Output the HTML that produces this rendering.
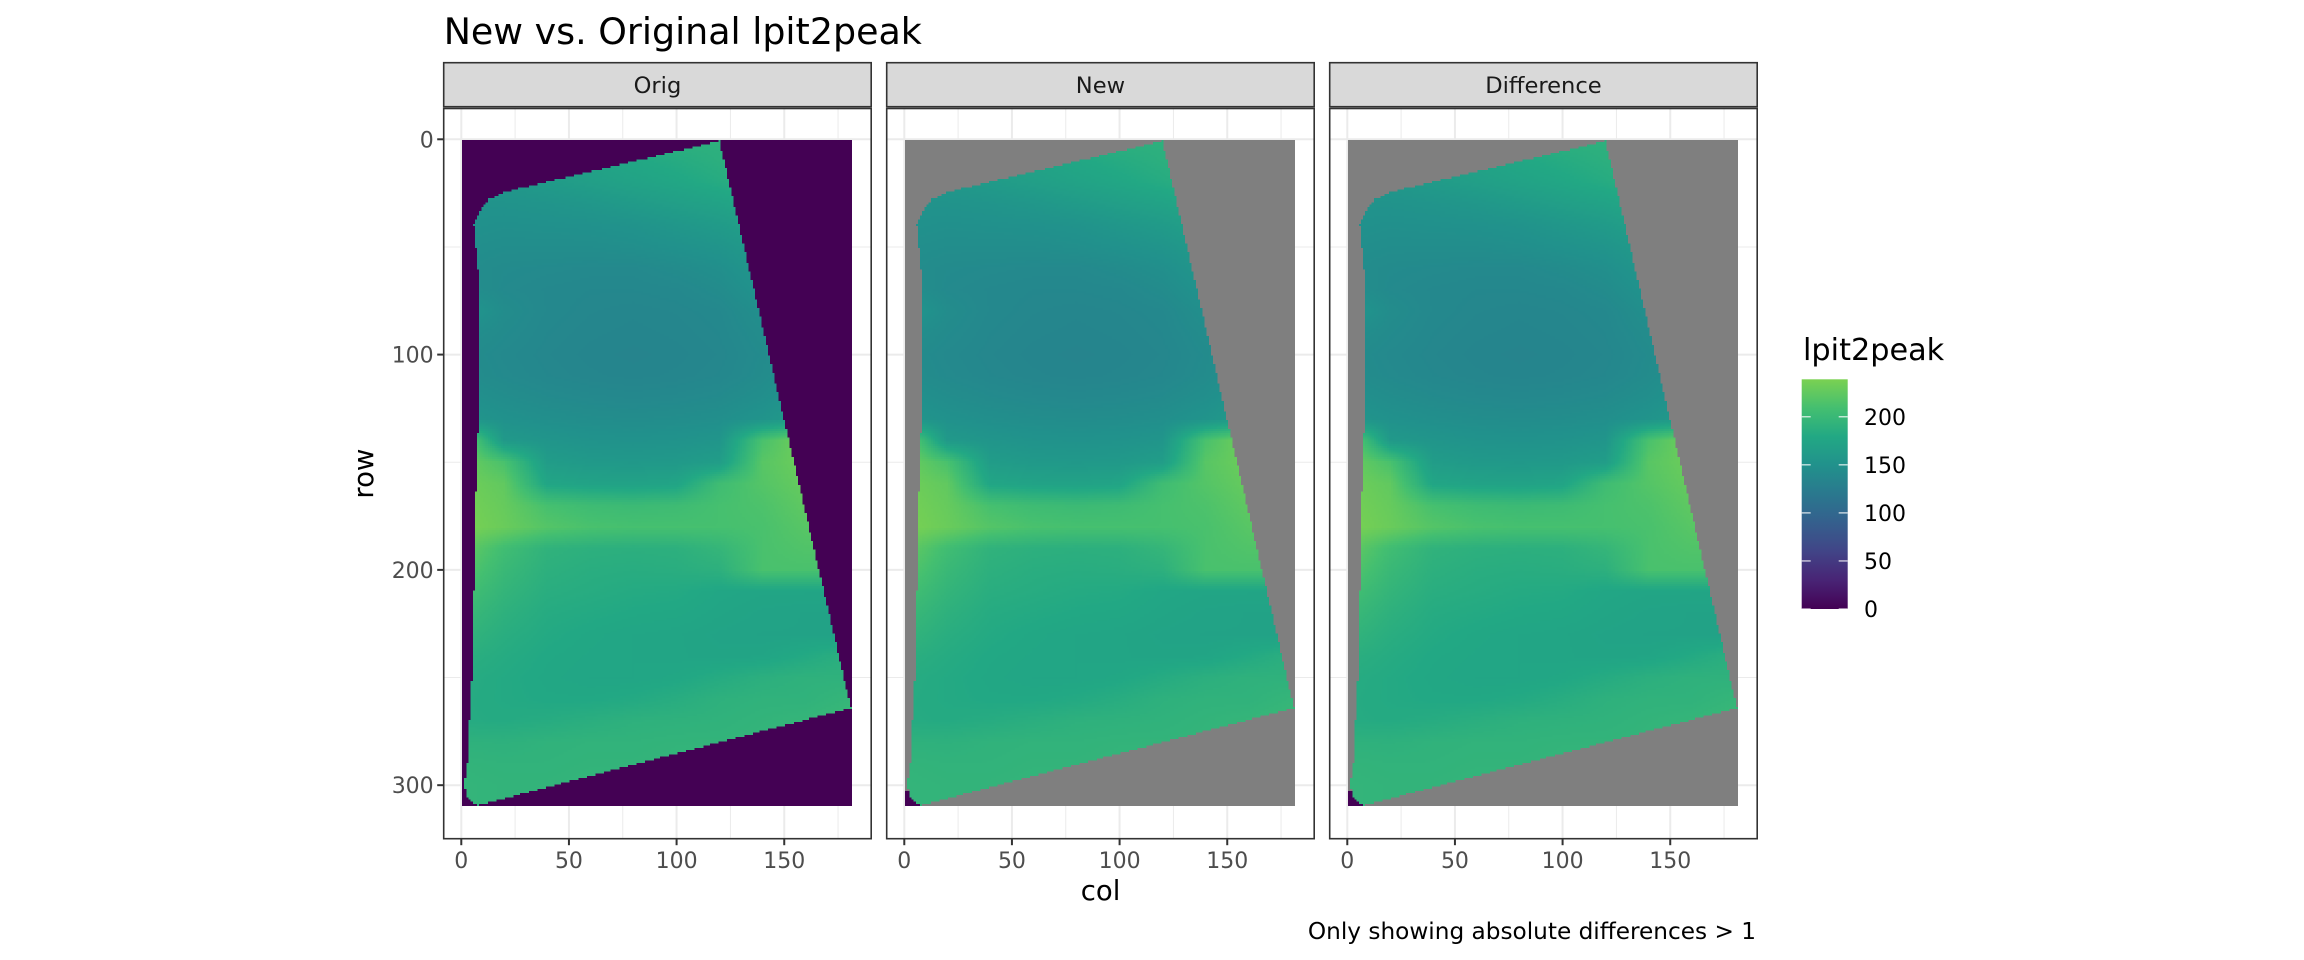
<!DOCTYPE html>
<html><head><meta charset="utf-8"><style>
html,body{margin:0;padding:0;background:#fff;}
#wrap{position:relative;width:2304px;height:960px;overflow:hidden;font-family:"DejaVu Sans","Liberation Sans",sans-serif;}
svg{position:absolute;left:0;top:0;}
canvas{position:absolute;image-rendering:pixelated;}
</style></head><body>
<div id="wrap">
<svg id="svg" width="2304" height="960"></svg>
</div>
<script>
// ---- data ----
const panelNames = ["Orig", "New", "Difference"];
const xTicks = [0, 50, 100, 150];
const yTicks = [0, 100, 200, 300];
const legendTicks = [0, 50, 100, 150, 200];
const gridCols = [0, 20, 40, 60, 80, 100, 120, 140, 160, 180];
const gridRows = [0,10,20,30,40,50,60,70,80,90,100,110,120,130,140,150,160,170,180,190,200,210,220,230,240,250,260,270,280,290,300,310];
const gridValues = [
[190,190,190,190,190,190,190,190,190,190],
[165,165,168,172,178,183,188,192,192,192],
[158,158,162,167,172,177,183,190,192,192],
[152,152,154,157,162,167,172,180,188,188],
[150,148,149,150,152,157,162,170,178,178],
[147,145,145,145,147,150,154,162,172,172],
[145,142,141,140,140,143,147,157,167,167],
[147,141,139,138,138,139,143,152,162,162],
[158,144,139,137,136,137,139,147,157,157],
[147,142,138,136,135,136,138,144,152,152],
[144,140,137,135,134,135,137,142,150,150],
[145,141,138,136,135,136,138,143,150,150],
[150,145,142,140,139,140,142,147,155,155],
[156,150,147,145,144,145,147,153,163,163],
[236,160,155,152,151,152,155,212,236,236],
[232,212,164,160,159,160,165,220,232,232],
[234,225,176,172,171,174,205,218,228,228],
[237,228,210,204,202,204,210,214,224,224],
[239,230,218,212,210,210,210,212,220,220],
[228,206,192,189,188,189,196,212,216,216],
[220,200,189,186,185,186,189,212,212,212],
[210,195,186,184,182,181,177,175,175,175],
[202,190,183,181,179,178,175,173,172,172],
[195,186,181,178,176,175,173,172,172,172],
[188,183,179,177,176,175,174,175,181,188],
[184,181,178,176,176,178,183,188,191,191],
[183,181,179,179,181,185,190,192,192,196],
[183,182,184,187,190,191,192,194,196,200],
[191,190,192,193,193,194,194,195,196,200],
[194,193,193,194,194,195,196,197,197,199],
[195,194,194,195,195,196,197,197,197,197],
[195,194,194,195,195,196,197,197,197,197]
];
// shape boundary (data units)
const topEdgeCols = [27, 120];
const topEdgeRows = [23, 1];
const rightEdgeRows = [1, 264];
const rightEdgeCols = [120, 181];
const bottomEdgeCols = [8.7, 181];
const bottomEdgeRows = [309, 264];
const leftEdgeRows = [0, 23, 25, 28, 32, 36, 40, 50, 60, 75, 110, 140, 180, 240, 270, 290, 300, 305, 308, 310];
const leftEdgeCols = [27, 27, 20, 13, 10, 8, 6, 7, 8, 9, 8.7, 7.9, 6.4, 5.6, 4, 3, 1.5, 3, 6, 9];
const nCols = 181, nRows = 309;
const fillMax = 239;

// ---- geometry ----
const panelLefts = [443.7, 886.7, 1329.7];
const panelW = 427.5, panelTop = 108.5, panelBottom = 838.7;
const stripTop = 62.7, stripBottom = 106.7;
const pxPerUnit = 2.153, colMin = -8.17, rowMin = -14.3;
function xS(p, c){ return panelLefts[p] + (c - colMin) * pxPerUnit; }
function yS(r){ return panelTop + (r - rowMin) * pxPerUnit; }

const VIR = ["#440154","#482475","#414487","#355f8d","#2a788e","#21918c","#22a884","#44bf70","#7ad151","#bddf26","#fde725"];
function hex(h){ return [parseInt(h.substr(1,2),16),parseInt(h.substr(3,2),16),parseInt(h.substr(5,2),16)]; }
const VIRRGB = VIR.map(hex);
function viridis(t){
  t = Math.max(0, Math.min(1, t)) * 10;
  const i = Math.min(9, Math.floor(t)), f = t - i;
  const a = VIRRGB[i], b = VIRRGB[i+1];
  return [0,1,2].map(k => Math.round(a[k] + (b[k]-a[k]) * f));
}
function fillColor(v){ return viridis(v / fillMax * 0.8); }

function interp1(xs, ys, x){
  if (x <= xs[0]) return ys[0];
  for (let i = 1; i < xs.length; i++) if (x <= xs[i]) { const f = (x - xs[i-1])/(xs[i]-xs[i-1]); return ys[i-1] + (ys[i]-ys[i-1])*f; }
  return ys[ys.length-1];
}
function lineAt(x0s, y0s, x){ const f=(x-x0s[0])/(x0s[1]-x0s[0]); return y0s[0]+(y0s[1]-y0s[0])*f; }
function inside(c, r){
  if (r < lineAt(topEdgeCols, topEdgeRows, c)) return false;
  if (c > lineAt(rightEdgeRows, rightEdgeCols, r)) return false;
  if (r > lineAt(bottomEdgeCols, bottomEdgeRows, c)) return false;
  if (c < interp1(leftEdgeRows, leftEdgeCols, r)) return false;
  return true;
}
function valueAt(c, r){
  let ri = Math.min(gridRows.length - 2, Math.max(0, Math.floor(r / 10)));
  let ci = Math.min(gridCols.length - 2, Math.max(0, Math.floor(c / 20)));
  const fr = Math.max(0, Math.min(1, (r - gridRows[ri]) / (gridRows[ri+1] - gridRows[ri])));
  const fc = Math.max(0, Math.min(1, (c - gridCols[ci]) / (gridCols[ci+1] - gridCols[ci])));
  const a = gridValues[ri][ci], b = gridValues[ri][ci+1], d = gridValues[ri+1][ci], e = gridValues[ri+1][ci+1];
  return (a*(1-fc)+b*fc)*(1-fr) + (d*(1-fc)+e*fc)*fr;
}

// ---- SVG ----
const NS = "http://www.w3.org/2000/svg";
const svg = document.getElementById("svg");
function mk(tag, attrs, parent){ const e = document.createElementNS(NS, tag); for (const k in attrs) e.setAttribute(k, attrs[k]); (parent||svg).appendChild(e); return e; }
function txt(s, attrs, parent){ const e = mk("text", attrs, parent); e.textContent = s; return e; }

const title = txt("New vs. Original lpit2peak", {x:443.7, y:44, "font-size":36.4, fill:"#000"});



const minorX = [25, 75, 125, 175], minorY = [50, 150, 250];
panelNames.forEach((name, p) => {
  const g = mk("g", {});
  
  
  const L = panelLefts[p], R = L + panelW;
  mk("rect", {x:L, y:panelTop, width:panelW, height:panelBottom-panelTop, fill:"#fff"}, g);
  minorX.forEach(v => mk("line", {x1:xS(p,v), x2:xS(p,v), y1:panelTop, y2:panelBottom, stroke:"#ebebeb", "stroke-width":1}, g));
  minorY.forEach(v => mk("line", {x1:L, x2:R, y1:yS(v), y2:yS(v), stroke:"#ebebeb", "stroke-width":1}, g));
  xTicks.forEach(v => mk("line", {x1:xS(p,v), x2:xS(p,v), y1:panelTop, y2:panelBottom, stroke:"#ebebeb", "stroke-width":2}, g));
  yTicks.forEach(v => mk("line", {x1:L, x2:R, y1:yS(v), y2:yS(v), stroke:"#ebebeb", "stroke-width":2}, g));
  const border = mk("rect", {x:L, y:panelTop, width:panelW, height:panelBottom-panelTop, fill:"none", stroke:"#333", "stroke-width":1.6}, g);
  
  
  const strip = mk("rect", {x:L, y:stripTop, width:panelW, height:stripBottom-stripTop, fill:"#d9d9d9", stroke:"#333", "stroke-width":1.6}, g);
  
  
  const st = txt(name, {x:L+panelW/2, y:92.8, "font-size":22.6, fill:"#1a1a1a", "text-anchor":"middle"}, g);
  
  
  xTicks.forEach(v => {
    mk("line", {x1:xS(p,v), x2:xS(p,v), y1:panelBottom, y2:panelBottom+6.5, stroke:"#333", "stroke-width":2}, g);
    const t = txt(String(v), {x:xS(p,v), y:868, "font-size":22, fill:"#4d4d4d", "text-anchor":"middle"}, g);
    
    
  });
  if (p === 0) {
    yTicks.forEach(v => {
      mk("line", {x1:L-6.5, x2:L, y1:yS(v), y2:yS(v), stroke:"#333", "stroke-width":2}, g);
      const t = txt(String(v), {x:L-10, y:yS(v)+8, "font-size":22, fill:"#4d4d4d", "text-anchor":"end"}, g);
      
      
    });
  }
});

const xt = txt("col", {x:1100.6, y:900, "font-size":27.5, fill:"#000", "text-anchor":"middle"});


const yt = txt("row", {x:0, y:0, "font-size":27.5, fill:"#000", "text-anchor":"middle", transform:"translate(373,473.6) rotate(-90)"});


const cap = txt("Only showing absolute differences > 1", {x:1756, y:939, "font-size":23.2, fill:"#000", "text-anchor":"end"});



// legend
const lg = mk("g", {});


const lt = txt("lpit2peak", {x:1803, y:360, "font-size":30.3, fill:"#000"}, lg);


const barX = 1801.7, barW = 46, barBottom = 609, barTop = 379.3;
const defs = mk("defs", {});
const grad = mk("linearGradient", {id:"vg", x1:0, y1:1, x2:0, y2:0}, defs);
for (let i = 0; i <= 16; i++) { const c = viridis(i/16*0.8); mk("stop", {offset:(i/16), "stop-color":"rgb("+c.join(",")+")"}, grad); }
const bar = mk("rect", {x:barX, y:barTop, width:barW, height:barBottom-barTop, fill:"url(#vg)"}, lg);


function yL(v){ return barBottom - v / fillMax * (barBottom - barTop); }
legendTicks.forEach(v => {
  const y = yL(v);
  mk("line", {x1:barX, x2:barX+9, y1:y, y2:y, stroke:"#fff", "stroke-width":1.2, opacity:0.85}, lg);
  mk("line", {x1:barX+barW-9, x2:barX+barW, y1:y, y2:y, stroke:"#fff", "stroke-width":1.2, opacity:0.85}, lg);
  const t = txt(String(v), {x:1864, y:y+8, "font-size":22, fill:"#000"}, lg);
  
  
});

// ---- rasters ----
const wrap = document.getElementById("wrap");
panelNames.forEach((name, p) => {
  const cv = document.createElement("canvas");
  
  
  cv.width = nCols; cv.height = nRows;
  const x0 = xS(p, 0.5), x1 = xS(p, nCols + 0.5), y0 = yS(0.5), y1 = yS(nRows + 0.5);
  cv.style.left = x0 + "px"; cv.style.top = y0 + "px";
  cv.style.width = (x1 - x0) + "px"; cv.style.height = (y1 - y0) + "px";
  const ctx = cv.getContext("2d");
  const img = ctx.createImageData(nCols, nRows);
  for (let r = 1; r <= nRows; r++) for (let c = 1; c <= nCols; c++) {
    let col;
    if (inside(c, r)) col = fillColor(valueAt(c, r));
    else if (p === 0 || (r >= 303 && c <= 8)) col = fillColor(0);
    else col = [127,127,127];
    const k = ((r-1) * nCols + (c-1)) * 4;
    img.data[k] = col[0]; img.data[k+1] = col[1]; img.data[k+2] = col[2]; img.data[k+3] = 255;
  }
  ctx.putImageData(img, 0, 0);
  wrap.appendChild(cv);
});
</script>
</body></html>
